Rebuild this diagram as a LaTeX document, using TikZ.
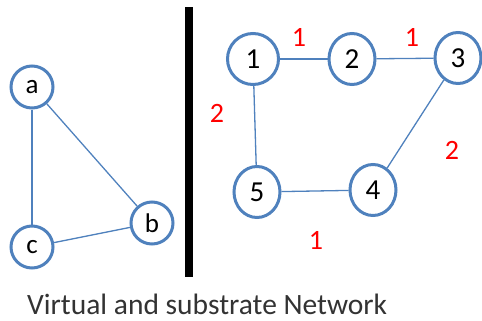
\documentclass[tikz,border=0pt]{standalone}
\usepackage{fontspec}
\setmainfont{Carlito}
\usetikzlibrary{shapes.geometric}
\definecolor{nodeblue}{HTML}{4F81BD}
\definecolor{lblred}{HTML}{FF0000}
\begin{document}
\begin{tikzpicture}[x=1pt,y=-1pt,
  vnode/.style={circle,draw=nodeblue,line width=3pt,minimum size=42pt,inner sep=0pt,font=\fontsize{27}{27}\selectfont},
  snode/.style={ellipse,draw=nodeblue,line width=3pt,minimum width=46pt,minimum height=51pt,inner sep=0pt,font=\fontsize{29}{29}\selectfont},
  edge/.style={draw=nodeblue,line width=1.3pt},
  wlabel/.style={text=lblred,font=\fontsize{28}{28}\selectfont,inner sep=0pt}]
\useasboundingbox (0,0) rectangle (482,321);
% left graph
\node[vnode] (a) at (32,87) {a};
\node[vnode] (c) at (32,247) {c};
\node[vnode] (b) at (152,223) {b};
\draw[edge] (a) -- (c);
\draw[edge] (a) -- (b);
\draw[edge] (c) -- (b);
% separator bar
\fill[black] (185,7) rectangle (193,277);
% right graph
\node[snode,minimum width=51pt] (n1) at (253,59) {1};
\node[snode] (n2) at (352,59) {2};
\node[snode] (n3) at (458,58) {3};
\node[snode] (n4) at (373,190) {4};
\node[snode] (n5) at (257,192) {5};
\draw[edge] (n1) -- (n2);
\draw[edge] (n2) -- (n3);
\draw[edge] (n1) -- (n5);
\draw[edge] (n5) -- (n4);
\draw[edge] (n3) -- (n4);
\node[wlabel] (w12) at (299,37) {1};
\node[wlabel] (w23) at (412,37) {1};
\node[wlabel] (w15) at (217,113) {2};
\node[wlabel] (w34) at (452,150) {2};
\node[wlabel] (w54) at (316,240) {1};
% caption
\node[font=\fontsize{29.5}{29.5}\selectfont,text=black!80,anchor=west,inner sep=0pt] (cap) at (27,304) {Virtual and substrate Network};
\end{tikzpicture}
\end{document}
